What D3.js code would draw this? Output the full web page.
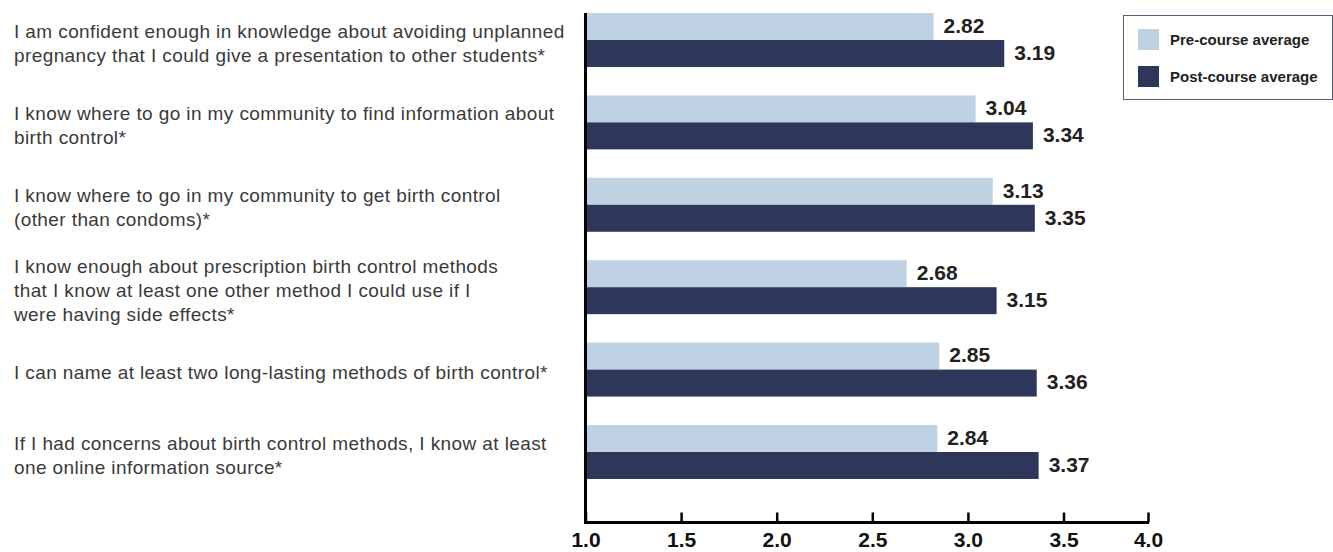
<!DOCTYPE html>
<html>
<head>
<meta charset="utf-8">
<script src="https://cdn.jsdelivr.net/npm/d3@7"></script>
<style>
  body { margin: 0; background: #fff; }
  svg { display: block; font-family: "Liberation Sans", Arial, Helvetica, sans-serif; }
</style>
</head>
<body>
<div id="chart"></div>
<script>
// statements, one per row (line breaks as in the original)
const statements = [
    ["I am confident enough in knowledge about avoiding unplanned", "pregnancy that I could give a presentation to other students*"],
    ["I know where to go in my community to find information about", "birth control*"],
    ["I know where to go in my community to get birth control", "(other than condoms)*"],
    ["I know enough about prescription birth control methods", "that I know at least one other method I could use if I", "were having side effects*"],
    ["I can name at least two long-lasting methods of birth control*"],
    ["If I had concerns about birth control methods, I know at least", "one online information source*"]
];
const preCourse = [2.82, 3.04, 3.13, 2.68, 2.85, 2.84];
const postCourse = [3.19, 3.34, 3.35, 3.15, 3.36, 3.37];
const seriesNames = ["Pre-course average", "Post-course average"];
const tickValues = [1.0, 1.5, 2.0, 2.5, 3.0, 3.5, 4.0];

const width = 1333, height = 552;
const colors = ["#bfd2e3", "#2e365a"];

const svg = d3.select("#chart").append("svg")
    .attr("width", width)
    .attr("height", height);

// the original axis squeezes the last interval (3.5 -> 4.0)
const x = d3.scaleLinear().domain([1, 3.5, 4]).range([585.5, 1063.5, 1148]);

const rows = d3.range(statements.length);
const y = d3.scaleBand()
    .domain(rows)
    .range([13, 13 + 82.4 * rows.length])
    .paddingInner(0.345)
    .paddingOuter(0.1725)
    .align(0);
const barH = y.bandwidth() / 2;

// bars
const groups = svg.append("g")
    .selectAll("g")
    .data(rows)
    .join("g")
    .attr("transform", i => `translate(0,${y(i)})`);

[preCourse, postCourse].forEach((vals, s) => {
    groups.append("rect")
        .attr("x", x(1))
        .attr("y", s * barH)
        .attr("width", i => x(vals[i]) - x(1))
        .attr("height", barH)
        .attr("fill", colors[s]);

    groups.append("text")
        .attr("x", i => x(vals[i]) + 10)
        .attr("y", s * barH + barH / 2 - 1)
        .attr("dy", "0.35em")
        .style("font-size", "21px")
        .style("font-weight", "bold")
        .style("fill", "#231f20")
        .text(i => vals[i].toFixed(2));
});

// statement labels
const lineH = 24;
groups.each(function (i) {
    const lines = statements[i];
    const t = d3.select(this).append("text")
        .attr("x", 14)
        .style("font-size", "19px")
        .style("letter-spacing", "0.4px")
        .style("fill", "#3a3a3a");
    const top = y.bandwidth() / 2 + 3 - (lines.length - 1) * lineH / 2;
    lines.forEach((l, k) => {
        t.append("tspan")
            .attr("x", 14)
            .attr("y", top + k * lineH)
            .attr("dy", "0.35em")
            .text(l);
    });
});

// x axis
const axisY = 522.5;
const xAxis = svg.append("g")
    .attr("transform", `translate(0,${axisY})`)
    .call(d3.axisTop(x).tickValues(tickValues).tickSize(10).tickSizeOuter(0).tickFormat(d3.format(".1f")));
xAxis.select(".domain").remove();
xAxis.selectAll(".tick line").attr("stroke", "#000").attr("stroke-width", 2.5);
xAxis.selectAll(".tick text")
    .attr("y", 24.5)
    .attr("dy", null)
    .style("font-size", "21px")
    .style("font-weight", "bold")
    .style("font-family", "'Liberation Sans', Arial, sans-serif")
    .style("fill", "#111");

// axis lines
svg.append("line")
    .attr("x1", x(1)).attr("x2", x(1))
    .attr("y1", 13).attr("y2", axisY + 1.5)
    .attr("stroke", "#000").attr("stroke-width", 3);
svg.append("line")
    .attr("x1", x(1) - 1.5).attr("x2", x(4) + 1)
    .attr("y1", axisY).attr("y2", axisY)
    .attr("stroke", "#000").attr("stroke-width", 3);

// legend
const legend = svg.append("g").attr("transform", "translate(1123,15)");
legend.append("rect")
    .attr("x", 0.5).attr("y", 0.5)
    .attr("width", 209).attr("height", 84)
    .attr("fill", "#fff")
    .attr("stroke", "#5b6080")
    .attr("stroke-width", 1);
seriesNames.forEach((name, s) => {
    legend.append("rect")
        .attr("x", 15).attr("y", 14 + s * 37)
        .attr("width", 21).attr("height", 21)
        .attr("fill", colors[s]);
    legend.append("text")
        .attr("x", 47).attr("y", 25 + s * 37)
        .attr("dy", "0.35em")
        .style("font-size", "15px")
        .style("font-weight", "bold")
        .style("fill", "#222")
        .text(name);
});
</script>
</body>
</html>
